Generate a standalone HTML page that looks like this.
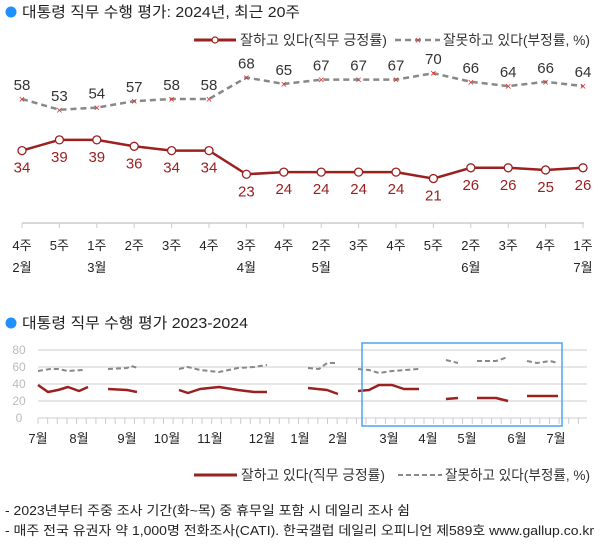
<!DOCTYPE html>
<html><head><meta charset="utf-8"><style>
body{margin:0;background:#fff;}
svg text{font-family:"Liberation Sans","Noto Sans CJK KR","NanumGothic",sans-serif;}
</style></head><body>
<svg width="600" height="547" viewBox="0 0 600 547" xmlns="http://www.w3.org/2000/svg">
<rect width="600" height="547" fill="#fff"/>
<circle cx="11" cy="12" r="5.5" fill="#1e90ff"/>
<text x="22" y="17" font-size="15" fill="#222" textLength="278" lengthAdjust="spacingAndGlyphs">대통령 직무 수행 평가: 2024년, 최근 20주</text>
<!-- top legend -->
<line x1="194" y1="40" x2="236" y2="40" stroke="#9b2020" stroke-width="3"/>
<circle cx="215" cy="40" r="3" fill="#fff" stroke="#9b2020" stroke-width="1.2"/>
<text x="240" y="45" font-size="14" fill="#333" textLength="147" lengthAdjust="spacingAndGlyphs">잘하고 있다(직무 긍정률)</text>
<line x1="395" y1="40" x2="440" y2="40" stroke="#888" stroke-width="2.5" stroke-dasharray="6,4"/>
<text x="418" y="44" font-size="11" fill="#d33" text-anchor="middle">×</text>
<text x="443" y="45" font-size="14" fill="#333" textLength="147" lengthAdjust="spacingAndGlyphs">잘못하고 있다(부정률, %)</text>
<g id="top"></g>
<line x1="22" y1="223" x2="584" y2="223" stroke="#ccc" stroke-width="1.5"/>
<g id="bottom"></g>
<circle cx="11" cy="323" r="5.5" fill="#1e90ff"/>
<text x="22" y="328" font-size="15" fill="#222" textLength="226" lengthAdjust="spacingAndGlyphs">대통령 직무 수행 평가 2023-2024</text>
<g stroke="#ccc" stroke-width="1">
<line x1="38" y1="350" x2="587" y2="350"/><line x1="38" y1="367" x2="587" y2="367"/>
<line x1="38" y1="384" x2="587" y2="384"/><line x1="38" y1="401" x2="587" y2="401"/>
<line x1="38" y1="418" x2="587" y2="418"/>
</g>
<g font-size="12" fill="#bbb" text-anchor="middle">
<text x="19" y="354">80</text><text x="19" y="371">60</text><text x="19" y="388">40</text><text x="19" y="405">20</text><text x="19" y="422">0</text>
</g>
<g id="ticks" stroke="#ccc" stroke-width="1"></g>
<g fill="none" stroke="#9b2020" stroke-width="2.5" stroke-linejoin="round">
<polyline points="38,385 48,392 58,390 68,387 79,391 88,387"/>
<polyline points="108,389 127,390 137,392"/>
<polyline points="179,390 188,393 200,389 219,387 238,390 254,392 267,392"/>
<polyline points="308,388 327,390 338,394"/>
<polyline points="358,391 369,390 379,385 392,385 404,389 419,389"/>
<polyline points="446,399 458,398"/>
<polyline points="477,398 496,398 508,401"/>
<polyline points="527,396 558,396"/>
</g>
<g fill="none" stroke="#888" stroke-width="2" stroke-dasharray="5,3">
<polyline points="38,371 50,369 58,369 68,371 83,370"/>
<polyline points="108,369 127,368 131,366 138,368"/>
<polyline points="179,369 188,367 200,370 219,372 238,368 254,367 267,365"/>
<polyline points="308,368 319,369 327,363 338,363"/>
<polyline points="358,369 369,370 379,373 392,371 419,369"/>
<polyline points="446,360 458,363"/>
<polyline points="477,361 496,361 508,357"/>
<polyline points="527,361 537,363 550,361 558,363"/>
</g>
<rect x="362" y="343" width="200" height="83" fill="none" stroke="#4aa3f0" stroke-width="1.5"/>
<g font-size="13" fill="#222" text-anchor="middle">
<text x="38" y="443">7월</text><text x="79" y="443">8월</text><text x="127" y="443">9월</text><text x="167" y="443">10월</text><text x="210" y="443">11월</text><text x="262" y="443">12월</text><text x="300" y="443">1월</text><text x="338" y="443">2월</text><text x="389" y="443">3월</text><text x="428" y="443">4월</text><text x="467" y="443">5월</text><text x="517" y="443">6월</text><text x="556" y="443">7월</text>
</g>
<line x1="194" y1="475" x2="237" y2="475" stroke="#9b2020" stroke-width="3"/>
<text x="241" y="480" font-size="14" fill="#333" textLength="144" lengthAdjust="spacingAndGlyphs">잘하고 있다(직무 긍정률)</text>
<line x1="398" y1="475" x2="442" y2="475" stroke="#888" stroke-width="2" stroke-dasharray="5,3"/>
<text x="445" y="480" font-size="14" fill="#333" textLength="145" lengthAdjust="spacingAndGlyphs">잘못하고 있다(부정률, %)</text>
<text x="5" y="515" font-size="13" fill="#222" textLength="405" lengthAdjust="spacingAndGlyphs">- 2023년부터 주중 조사 기간(화~목) 중 휴무일 포함 시 데일리 조사 쉼</text>
<text x="5" y="535" font-size="13" fill="#222" textLength="589" lengthAdjust="spacingAndGlyphs">- 매주 전국 유권자 약 1,000명 전화조사(CATI). 한국갤럽 데일리 오피니언 제589호 www.gallup.co.kr</text>
</svg>
<script>
var ns="http://www.w3.org/2000/svg";
function el(t,a,p,txt){var e=document.createElementNS(ns,t);for(var k in a)e.setAttribute(k,a[k]);if(txt!==undefined)e.textContent=txt;p.appendChild(e);return e;}
var g=document.getElementById("top");
var pos=[34,39,39,36,34,34,23,24,24,24,24,21,26,26,25,26];
var neg=[58,53,54,57,58,58,68,65,67,67,67,70,66,64,66,64];
var wk=["4주","5주","1주","2주","3주","4주","3주","4주","2주","3주","4주","5주","2주","3주","4주","1주"];
var mo={0:"2월",2:"3월",6:"4월",8:"5월",12:"6월",15:"7월"};
function X(i){return 22+i*37.4;}
function Y(v){return 99+(58-v)*2.15;}
var pp=pos.map(function(v,i){return X(i)+","+Y(v)}).join(" ");
var np=neg.map(function(v,i){return X(i)+","+Y(v)}).join(" ");
el("polyline",{points:np,fill:"none",stroke:"#888","stroke-width":2.5,"stroke-dasharray":"6,4"},g);
el("polyline",{points:pp,fill:"none",stroke:"#9b2020","stroke-width":2.5},g);
var ax=document.getElementById("bottom");
for(var i=0;i<16;i++){
 el("text",{x:X(i),y:Y(neg[i])+4,"font-size":11,fill:"#d33","text-anchor":"middle"},g,"×");
 el("text",{x:X(i),y:Y(neg[i])-9,"font-size":15,fill:"#333","text-anchor":"middle"},g,neg[i]);
 el("circle",{cx:X(i),cy:Y(pos[i]),r:4,fill:"#fff",stroke:"#9b2020","stroke-width":1.3},g);
 el("text",{x:X(i),y:Y(pos[i])+22,"font-size":15,fill:"#9b2020","text-anchor":"middle"},g,pos[i]);
 el("line",{x1:X(i),y1:223,x2:X(i),y2:228,stroke:"#ccc"},ax);
 el("text",{x:X(i),y:250,"font-size":13,fill:"#222","text-anchor":"middle"},ax,wk[i]);
 if(mo[i])el("text",{x:X(i),y:272,"font-size":13,fill:"#222","text-anchor":"middle"},ax,mo[i]);
}
var t=document.getElementById("ticks");
for(var x=38;x<=588;x+=9.65)el("line",{x1:x,y1:418,x2:x,y2:424},t);
</script>
</body></html>
